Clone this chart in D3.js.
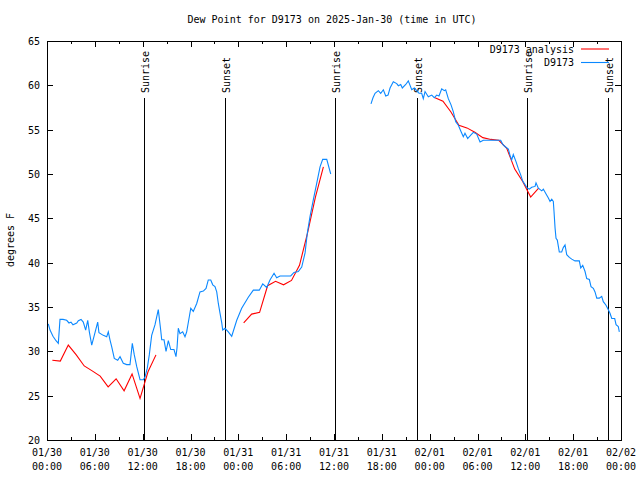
<!DOCTYPE html>
<html><head><meta charset="utf-8">
<script src="https://cdn.jsdelivr.net/npm/d3@7/dist/d3.min.js"></script>
<style>
body{margin:0;background:#fff}
text{font-family:"DejaVu Sans Mono","Liberation Mono",monospace;font-size:10px;fill:#000}
</style>
</head><body>
<svg id="chart" width="640" height="480"></svg>
<script>
// ---------------- data ----------------
const startTime = "2025-01-30T00:00:00Z";
const endTime = "2025-02-02T00:00:00Z";
const chartTitle = "Dew Point for D9173 on 2025-Jan-30 (time in UTC)";
const yLabel = "degrees F";

// D9173 observations: hours after start, dew point (F); null = gap
const obsHours = [0.16,0.38,0.75,1.13,1.42,1.63,2.01,2.47,2.76,3.01,3.26,3.73,3.93,4.27,4.55,4.85,5.11,5.31,5.61,6.02,
  6.36,6.52,7.06,7.49,7.69,7.90,8.12,8.44,8.87,9.16,9.57,10.0,10.41,10.70,10.95,11.25,11.67,12.08,12.29,12.58,
  12.83,13.13,13.55,13.96,14.26,14.39,14.68,14.93,15.22,15.52,15.93,16.18,16.31,16.47,16.68,17.02,17.31,17.52,17.85,18.03,
  18.35,18.78,19.19,19.61,19.95,20.23,20.54,20.79,21.07,21.29,21.49,21.70,21.92,22.04,22.33,22.74,23.17,23.80,24.42,25.25,
  25.88,26.63,27.06,27.56,27.97,28.48,28.81,29.23,29.86,30.57,30.98,31.52,31.95,32.37,32.65,32.99,33.41,33.83,34.25,34.58,
  35.09,35.59,38.0,
  40.64,40.89,41.15,41.56,41.86,42.19,42.49,42.78,43.03,43.44,43.87,44.07,44.37,44.57,45.0,45.32,45.54,45.75,46.08,46.38,
  46.66,47.0,47.2,47.42,47.83,48.26,48.58,48.88,49.17,49.51,49.84,50.01,50.34,50.68,50.97,51.27,51.6,51.93,52.22,52.43,
  52.77,53.18,53.48,53.9,54.32,54.73,55.57,56.91,57.16,57.45,57.87,58.08,58.29,58.49,58.83,59.12,59.42,59.67,59.96,60.25,
  60.5,60.8,61.22,61.34,61.63,62.06,62.26,62.6,62.89,63.1,63.31,63.51,63.6,63.73,63.85,64.01,64.26,64.56,64.76,64.98,
  65.19,65.52,65.82,66.23,66.77,66.95,67.2,67.49,67.7,68.03,68.24,68.53,68.74,68.96,69.28,69.58,69.78,70.12,70.41,70.62,
  70.84,71.21,71.38,71.66,71.79];
const obsValues = [33.1,32.4,31.7,31.2,30.9,33.6,33.6,33.5,33.2,33.3,33.0,33.2,33.45,33.6,33.3,32.4,33.5,32.2,30.7,32.1,
  33.3,32.1,31.8,31.65,32.2,31.3,30.5,29.2,29.0,29.4,28.65,28.5,28.5,30.9,29.6,28.3,26.8,26.8,27.1,28.1,
  29.6,31.8,33.0,34.7,32.4,31.3,31.3,30.0,31.2,30.2,30.2,29.4,30.4,32.6,32.0,32.2,31.65,32.2,33.9,34.85,
  34.5,35.4,36.7,36.8,37.1,38.05,38.05,37.5,37.3,36.7,35.4,34.3,33.2,32.4,32.6,32.2,31.7,33.5,34.85,36.1,
  36.9,36.9,37.6,37.2,38.05,38.8,38.3,38.5,38.5,38.5,38.9,39.0,39.5,41.1,43.3,45.2,47.1,48.95,50.8,51.65,
  51.65,50.0,null,
  57.9,58.6,59.1,59.4,59.1,59.5,58.8,58.9,59.7,60.4,60.2,59.96,60.1,59.7,60.1,60.5,60.0,59.5,59.7,59.4,
  59.1,59.1,58.5,59.3,58.7,58.9,58.6,58.9,58.8,59.6,59.4,59.5,58.5,57.8,57.0,55.9,55.5,54.8,54.2,54.6,
  54.0,54.4,54.7,54.5,53.6,53.8,53.8,53.8,53.35,53.1,52.8,52.1,51.6,52.2,51.4,50.6,49.9,49.2,48.8,48.4,
  48.3,48.5,48.6,49.0,48.4,48.1,48.3,47.75,47.3,46.9,47.15,46.9,45.75,43.9,42.75,42.55,41.2,41.2,41.7,42.0,
  40.9,40.6,40.4,40.2,40.2,39.4,39.7,39.0,38.2,38.1,37.3,37.1,36.7,36.0,36.0,36.2,35.6,35.2,34.7,34.3,
  33.7,33.7,33.0,32.8,32.2];

// D9173 analysis: hours after start, dew point (F); null = gap
const anaHours = [0.67,1.67,2.67,3.67,4.67,5.67,6.67,7.67,8.67,9.67,10.67,11.67,12.67,13.67,
  18.0,
  24.67,25.67,26.67,27.67,28.67,29.67,30.67,31.67,32.67,33.67,34.67,
  40.0,
  48.67,49.67,50.67,51.67,52.67,53.67,54.67,55.67,56.67,57.67,58.67,59.67,60.67,61.67];
const anaValues = [29.0,28.9,30.7,29.6,28.35,27.8,27.2,26.0,26.9,25.55,27.45,24.7,27.7,29.6,
  null,
  33.2,34.2,34.4,37.4,37.9,37.5,38.0,39.7,43.3,47.4,50.8,
  null,
  58.6,58.2,57.0,55.5,55.2,54.7,54.1,53.9,53.8,52.9,50.55,49.15,47.4,48.4];

const sunLabels = ["Sunrise","Sunset","Sunrise","Sunset","Sunrise","Sunset"];
const sunTimes = ["2025-01-30T12:12Z","2025-01-30T22:22Z","2025-01-31T12:10Z","2025-01-31T22:26Z","2025-02-01T12:14Z","2025-02-01T22:25Z"];

const yTicks = [20,25,30,35,40,45,50,55,60,65];
const xTickTimes = ["2025-01-30T00:00Z","2025-01-30T06:00Z","2025-01-30T12:00Z","2025-01-30T18:00Z",
  "2025-01-31T00:00Z","2025-01-31T06:00Z","2025-01-31T12:00Z","2025-01-31T18:00Z",
  "2025-02-01T00:00Z","2025-02-01T06:00Z","2025-02-01T12:00Z","2025-02-01T18:00Z","2025-02-02T00:00Z"];
const xTickDates = ["01/30","01/30","01/30","01/30","01/31","01/31","01/31","01/31","02/01","02/01","02/01","02/01","02/02"];
const xTickClock = ["00:00","06:00","12:00","18:00","00:00","06:00","12:00","18:00","00:00","06:00","12:00","18:00","00:00"];
const seriesNames = ["D9173 analysis","D9173"];
const seriesColors = ["#ff0000","#0a88ff"];

// ---------------- drawing ----------------
const L = 47, R = 621, T = 41, B = 440;
const svg = d3.select("#chart");
const t0 = new Date(startTime);
const hToDate = h => new Date(t0.getTime() + h * 3600e3);

const x = d3.scaleUtc().domain([t0, new Date(endTime)]).range([L, R]);
const y = d3.scaleLinear().domain([20, 65]).range([B, T]);

svg.append("rect").attr("width",640).attr("height",480).attr("fill","#fff");

// title
svg.append("text").attr("x", 332).attr("y", 23).attr("text-anchor","middle").text(chartTitle);
// y label
svg.append("text").attr("transform","translate(14,240) rotate(-90)").attr("text-anchor","middle").text(yLabel);

// ticks
const majorX = xTickTimes.map(d => new Date(d));
const minorX = majorX.slice(0,-1).map(d => d3.utcHour.offset(d, 3));
function noDomain(g){ g.select(".domain").remove(); g.selectAll("line").attr("stroke","#000"); }
svg.append("g").attr("transform",`translate(0,${B})`)
  .call(d3.axisBottom(x).tickValues(majorX).tickSize(-6).tickFormat(""))
  .call(noDomain);
svg.append("g").attr("transform",`translate(0,${B})`)
  .call(d3.axisBottom(x).tickValues(minorX).tickSize(-3).tickFormat(""))
  .call(noDomain);
svg.append("g").attr("transform",`translate(0,${T})`)
  .call(d3.axisTop(x).tickValues(majorX).tickSize(-6).tickFormat(""))
  .call(noDomain);
svg.append("g").attr("transform",`translate(0,${T})`)
  .call(d3.axisTop(x).tickValues(minorX).tickSize(-3).tickFormat(""))
  .call(noDomain);
const yl = svg.append("g").attr("transform",`translate(${L},0)`)
  .call(d3.axisLeft(y).tickValues(yTicks).tickSize(-6).tickPadding(7).tickFormat(d3.format("d")))
  .call(noDomain);
yl.selectAll("text").attr("font-family",null).attr("font-size",null).attr("dy","0.35em");
svg.append("g").attr("transform",`translate(${R},0)`)
  .call(d3.axisRight(y).tickValues(yTicks).tickSize(-6).tickFormat(""))
  .call(noDomain);
svg.selectAll(".tick line").attr("shape-rendering","crispEdges");

// x tick labels (two lines)
const xl = svg.append("g");
majorX.forEach((d,i) => {
  const t = xl.append("text").attr("x", x(d)).attr("text-anchor","middle");
  t.append("tspan").attr("x", x(d)).attr("y", 456).text(xTickDates[i]);
  t.append("tspan").attr("x", x(d)).attr("y", 470).text(xTickClock[i]);
});

// sun lines
sunTimes.forEach((s,i) => {
  const xp = Math.round(x(new Date(s))) + 0.5;
  svg.append("line").attr("x1",xp).attr("x2",xp).attr("y1",98).attr("y2",B)
    .attr("stroke","#000").attr("stroke-width",1.2).attr("shape-rendering","crispEdges");
  svg.append("text").attr("transform",`translate(${xp+4},93) rotate(-90)`)
    .attr("text-anchor","start").text(sunLabels[i]);
});

// series
const line = d3.line().defined(d => d.v !== null).x(d => x(d.t)).y(d => y(d.v));
const anaData = anaHours.map((h,i) => ({t: hToDate(h), v: anaValues[i]}));
const obsData = obsHours.map((h,i) => ({t: hToDate(h), v: obsValues[i]}));
svg.append("path").datum(anaData).attr("d", line).attr("fill","none")
  .attr("stroke", seriesColors[0]).attr("stroke-width",1.1);
svg.append("path").datum(obsData).attr("d", line).attr("fill","none")
  .attr("stroke", seriesColors[1]).attr("stroke-width",1.1);

// legend
[0,1].forEach(i => {
  const ly = 49 + i*13.5;
  svg.append("text").attr("x",574).attr("y",ly).attr("dy","0.35em").attr("text-anchor","end").text(seriesNames[i]);
  svg.append("line").attr("x1",581).attr("x2",609).attr("y1",ly).attr("y2",ly)
    .attr("stroke",seriesColors[i]).attr("stroke-width",1.1);
});

// border
svg.append("rect").attr("x",L+0.5).attr("y",T+0.5).attr("width",R-L).attr("height",B-T)
  .attr("fill","none").attr("stroke","#000").attr("stroke-width",1).attr("shape-rendering","crispEdges");
</script>
</body></html>
